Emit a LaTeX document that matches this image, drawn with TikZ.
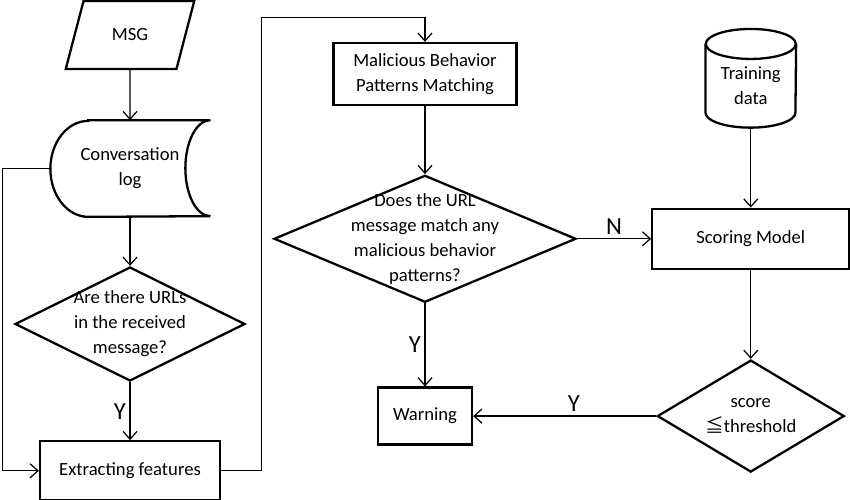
\documentclass[tikz,border=0pt]{standalone}
\usepackage{fontspec}
\setmainfont{Carlito}
\newfontfamily\cjk{Noto Sans CJK SC}
\usepackage{tikz}
\usetikzlibrary{shapes.geometric, arrows.meta, positioning}
\tikzset{
  box/.style={rectangle, draw, line width=1.3pt, align=center, inner sep=2pt,
              font=\fontsize{10.6}{14.2}\selectfont},
  dec/.style={diamond, draw, line width=1.3pt, align=center, inner sep=-12pt,
              shape aspect=#1, font=\fontsize{10.6}{14.2}\selectfont},
  io/.style={trapezium, trapezium left angle=69, trapezium right angle=111,
             trapezium stretches=true, draw, line width=1.3pt,
             font=\fontsize{10.6}{14.2}\selectfont},
  store/.style={rectangle, align=center, inner sep=0pt,
                font=\fontsize{10.6}{14.2}\selectfont},
  arr/.style={-{Straight Barb[length=4.5pt, width=8pt]}, line width=0.7pt},
  yn/.style={font=\fontsize{14}{16}\selectfont, inner sep=2pt},
}
\begin{document}
\begin{tikzpicture}
  \useasboundingbox (0,0) rectangle (17,-9.98);

  % Left column
  \node[io, minimum width=2.58cm, minimum height=1.36cm] (msg) at (2.6,-0.70) {MSG};
  \node[store, minimum width=3.2cm, minimum height=1.92cm, below=1.0cm of msg] (convlog)
    {Conversation\\log};
  \draw[line width=1.3pt] ([xshift=-2.44cm]convlog.north east) -- (convlog.north east)
    arc[start angle=90, end angle=270, x radius=0.5cm, y radius=0.96cm]
    -- ([xshift=-2.44cm]convlog.south east)
    arc[start angle=270, end angle=90, x radius=0.76cm, y radius=0.96cm] -- cycle;
  \node[dec=2.02, minimum width=4.6cm, minimum height=2.28cm, below=0.98cm of convlog] (urlq)
    {Are there URLs\\in the received\\message?};
  \node[box, minimum width=3.6cm, minimum height=1.18cm, below=1.16cm of urlq] (extract)
    {Extracting features};

  % Middle column
  \node[box, minimum width=3.66cm, minimum height=1.24cm] (match) at (8.5,-1.48)
    {Malicious Behavior\\Patterns Matching};
  \node[dec=2.38, minimum width=6.04cm, minimum height=2.54cm, below=1.36cm of match] (patq)
    {Does the URL\\message match any\\malicious behavior\\patterns?};
  \node[box, minimum width=1.88cm, minimum height=1.14cm, below=1.66cm of patq] (warn)
    {Warning};

  % Right column
  \node[box, minimum width=3.94cm, minimum height=1.2cm, right=1.48cm of patq] (score)
    {Scoring Model};
  \node[store, minimum width=1.8cm, minimum height=1.66cm, above=1.6cm of score] (train)
    {Training\\data};
  \draw[line width=1.3pt] (train.north west) -- ([yshift=0.3cm]train.south west)
    arc[start angle=180, end angle=360, x radius=0.9cm, y radius=0.3cm]
    -- (train.north east);
  \draw[line width=1.3pt] (train.north) ellipse[x radius=0.9cm, y radius=0.3cm];
  \node[dec=1.67, minimum width=3.74cm, minimum height=2.24cm, below=1.78cm of score] (threshq)
    {score\\{\cjk ≦}threshold};

  % Arrows
  \draw[arr] (msg) -- (convlog);
  \draw[arr] (convlog.south) -- (urlq.north);
  \draw[arr] (urlq.south) -- node[yn, left] {Y} (extract.north);
  \draw[arr] (convlog.west) -- ++(-0.94,0) |- (extract.west);
  \draw[arr] (extract.east) -- ++(0.8,0) |- ([yshift=0.48cm]match.north) -- (match.north);
  \draw[arr] (match.south) -- (patq.north);
  \draw[arr] (patq.south) -- node[yn, left] {Y} (warn.north);
  \draw[arr] (patq.east) -- node[yn, above, pos=0.5] {N} (score.west);
  \draw[arr] (train.south) -- (score.north);
  \draw[arr] (score.south) -- (threshq.north);
  \draw[arr] (threshq.west) -- node[yn, above, pos=0.45] {Y} (warn.east);

\end{tikzpicture}
\end{document}
